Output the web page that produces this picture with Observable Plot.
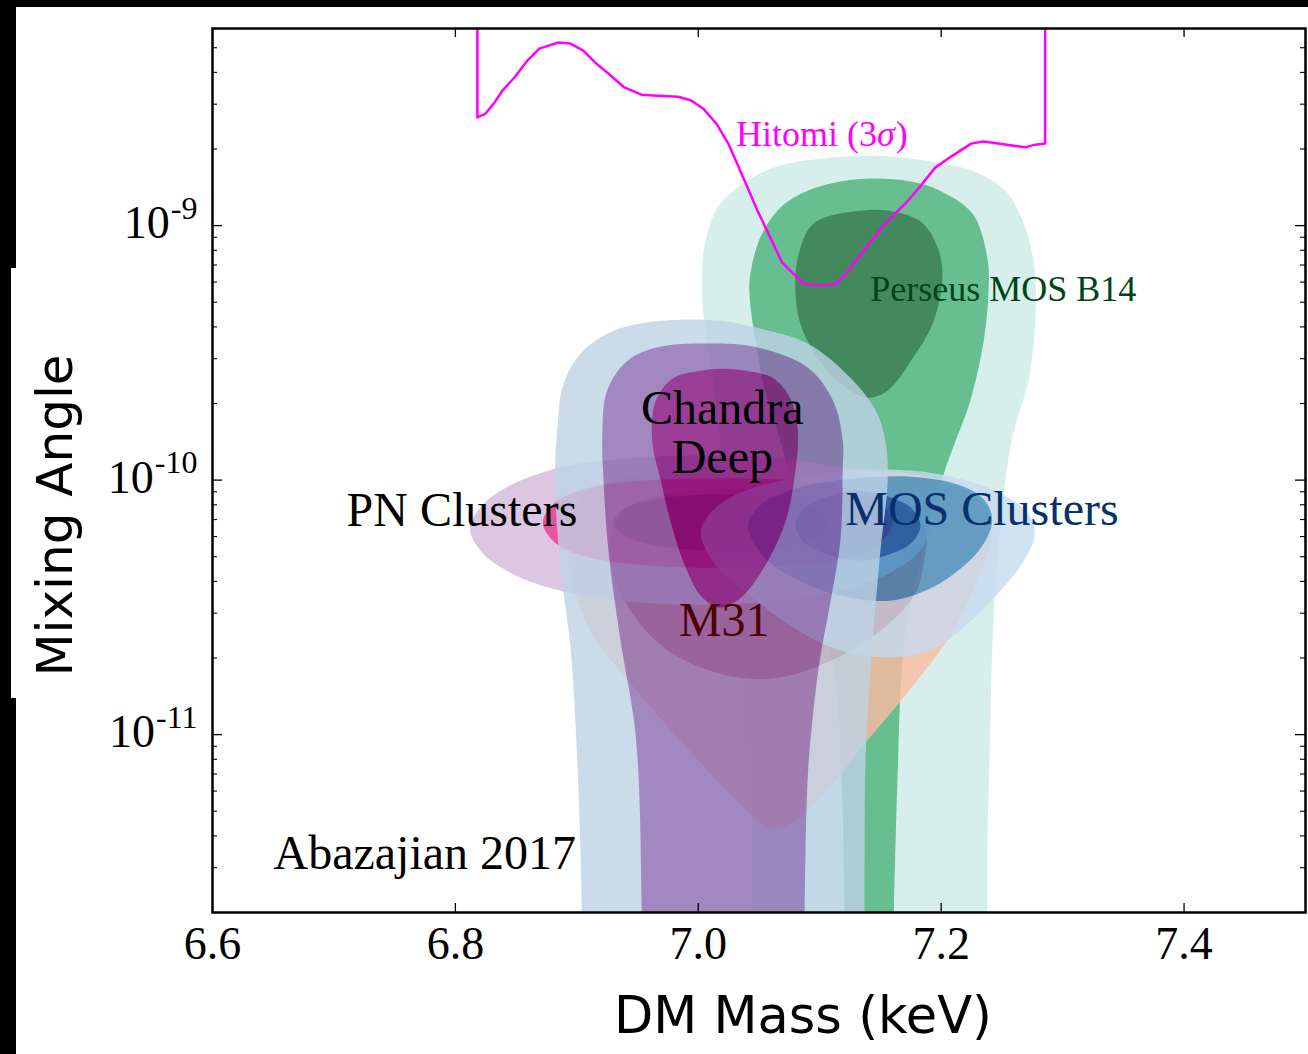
<!DOCTYPE html>
<html><head><meta charset="utf-8">
<script src="https://cdn.jsdelivr.net/npm/d3@7"></script>
<script src="https://cdn.jsdelivr.net/npm/@observablehq/plot@0.6"></script>
<style>
html,body{margin:0;padding:0;background:#fff;}
#wrap{position:relative;width:1308px;height:1054px;overflow:hidden;background:#fff;}
#chart{position:absolute;left:0;top:0;}
.blk{position:absolute;background:#000;}
</style></head><body>
<div id="wrap">
 <div id="chart"></div>
 <div class="blk" style="left:0;top:0;width:1308px;height:7px"></div>
 <div class="blk" style="left:0;top:0;width:16px;height:268px"></div>
 <div class="blk" style="left:0;top:268px;width:11px;height:430px"></div>
 <div class="blk" style="left:0;top:698px;width:16px;height:356px"></div>
</div>
<script>
// ---------- data (DM mass in keV, mixing angle sin^2(2θ)) ----------
const xTicks = [6.6, 6.8, 7.0, 7.2, 7.4];
const yMajor = [1e-9, 1e-10, 1e-11];
const yExponents = ["-9", "-10", "-11"];
const yMinor = [2e-12,3e-12,4e-12,5e-12,6e-12,7e-12,8e-12,9e-12,
  2e-11,3e-11,4e-11,5e-11,6e-11,7e-11,8e-11,9e-11,
  2e-10,3e-10,4e-10,5e-10,6e-10,7e-10,8e-10,9e-10,
  2e-9,3e-9,4e-9,5e-9];

const perseusOuter = [[7.044,3e-13],[7.044,1e-12],[7.044,5.51e-12],[7.041,1.36e-11],[7.035,2.81e-11],[7.025,6.93e-11],[7.017,1.57e-10],[7.010,2.95e-10],[7.004,4.63e-10],[7.003,6.48e-10],[7.006,8.73e-10],[7.016,1.18e-9],[7.035,1.44e-9],[7.062,1.69e-9],[7.100,1.83e-9],[7.144,1.88e-9],[7.187,1.80e-9],[7.226,1.64e-9],[7.253,1.37e-9],[7.268,1.02e-9],[7.276,7.29e-10],[7.278,5.07e-10],[7.273,2.62e-10],[7.258,1.43e-10],[7.251,8.31e-11],[7.246,4.83e-11],[7.242,2.14e-11],[7.240,8.65e-12],[7.238,3.50e-12],[7.238,1e-12],[7.238,3e-13]];
const perseusMid = [[7.121,3e-13],[7.121,1e-12],[7.118,6.60e-12],[7.113,1.63e-11],[7.100,3.36e-11],[7.088,5.79e-11],[7.076,1.0e-10],[7.066,1.52e-10],[7.055,2.25e-10],[7.047,3.53e-10],[7.042,5.55e-10],[7.043,6.48e-10],[7.051,8.97e-10],[7.068,1.18e-9],[7.090,1.37e-9],[7.117,1.49e-9],[7.144,1.53e-9],[7.175,1.49e-9],[7.199,1.37e-9],[7.226,1.11e-9],[7.238,7.49e-10],[7.239,5.55e-10],[7.235,3.53e-10],[7.224,2.05e-10],[7.212,1.43e-10],[7.203,1.09e-10],[7.191,6.93e-11],[7.179,4.03e-11],[7.169,2.14e-11],[7.164,6.60e-12],[7.160,1e-12],[7.160,3e-13]];
const perseusInner = [[7.139,1.15e-9],[7.166,1.12e-9],[7.185,1.02e-9],[7.198,7.98e-10],[7.201,6.08e-10],[7.193,4.12e-10],[7.177,3.03e-10],[7.156,2.25e-10],[7.139,2.11e-10],[7.117,2.39e-10],[7.098,3.03e-10],[7.084,4.12e-10],[7.080,5.55e-10],[7.082,7.49e-10],[7.095,1.02e-9]];

const m31Outer = [[7.061,4.27e-12],[7.040,5.03e-12],[6.998,8.13e-12],[6.947,1.53e-11],[6.911,2.56e-11],[6.896,4.03e-11],[6.893,5.79e-11],[6.899,7.94e-11],[6.919,9.52e-11],[6.961,1.07e-10],[7.018,1.13e-10],[7.084,1.13e-10],[7.150,1.09e-10],[7.199,1.0e-10],[7.232,8.31e-11],[7.242,6.33e-11],[7.236,4.83e-11],[7.210,2.56e-11],[7.169,1.40e-11],[7.137,9.22e-12],[7.088,4.89e-12]];
const m31Mid = [[7.061,1.66e-11],[7.015,1.75e-11],[6.973,2.18e-11],[6.944,3.07e-11],[6.929,4.41e-11],[6.929,6.33e-11],[6.944,7.94e-11],[6.985,8.93e-11],[7.051,9.26e-11],[7.117,8.93e-11],[7.166,7.94e-11],[7.187,6.33e-11],[7.186,4.83e-11],[7.179,3.61e-11],[7.150,2.56e-11],[7.109,1.95e-11]];

const pnOuter = [[6.812,6.45e-11],[6.822,7.94e-11],[6.845,9.52e-11],[6.886,1.12e-10],[6.936,1.21e-10],[7.002,1.25e-10],[7.067,1.21e-10],[7.117,1.12e-10],[7.158,9.52e-11],[7.181,7.94e-11],[7.191,6.45e-11],[7.181,5.19e-11],[7.158,4.33e-11],[7.117,3.68e-11],[7.067,3.36e-11],[7.002,3.24e-11],[6.936,3.36e-11],[6.886,3.68e-11],[6.845,4.33e-11],[6.822,5.19e-11]];
const pnMid = [[6.872,6.81e-11],[6.882,8.16e-11],[6.911,9.35e-11],[6.961,1.00e-10],[7.018,1.02e-10],[7.076,1.00e-10],[7.125,9.35e-11],[7.150,8.16e-11],[7.160,6.81e-11],[7.150,5.68e-11],[7.125,4.96e-11],[7.076,4.61e-11],[7.018,4.53e-11],[6.961,4.61e-11],[6.911,4.96e-11],[6.882,5.68e-11]];
const pnInner = [[6.930,6.81e-11],[6.940,7.73e-11],[6.969,8.46e-11],[7.018,8.77e-11],[7.068,8.46e-11],[7.096,7.73e-11],[7.106,6.81e-11],[7.096,6.00e-11],[7.068,5.48e-11],[7.018,5.29e-11],[6.969,5.48e-11],[6.940,6.00e-11]];

const mosOuter = [[7.002,6.22e-11],[7.012,7.59e-11],[7.035,8.93e-11],[7.076,1.01e-10],[7.125,1.09e-10],[7.175,1.09e-10],[7.216,1.01e-10],[7.253,8.69e-11],[7.273,7.25e-11],[7.277,6.05e-11],[7.267,4.74e-11],[7.249,3.68e-11],[7.220,2.68e-11],[7.191,2.14e-11],[7.158,2.01e-11],[7.117,2.14e-11],[7.076,2.68e-11],[7.043,3.52e-11],[7.013,4.74e-11]];
const mosMid = [[7.041,6.64e-11],[7.051,7.94e-11],[7.080,9.26e-11],[7.125,1.01e-10],[7.175,1.03e-10],[7.216,9.52e-11],[7.236,8.31e-11],[7.242,6.93e-11],[7.234,5.53e-11],[7.216,4.49e-11],[7.191,3.75e-11],[7.158,3.36e-11],[7.117,3.52e-11],[7.080,4.10e-11],[7.053,5.05e-11]];
const mosInner = [[7.080,6.64e-11],[7.088,7.80e-11],[7.109,8.69e-11],[7.131,9.09e-11],[7.154,8.69e-11],[7.175,7.80e-11],[7.183,6.64e-11],[7.175,5.63e-11],[7.154,5.05e-11],[7.131,4.83e-11],[7.109,5.05e-11],[7.088,5.63e-11]];

const chandraOuter = [[6.905,3e-13],[6.905,1e-12],[6.903,3.50e-12],[6.900,8.65e-12],[6.895,2.14e-11],[6.886,4.83e-11],[6.882,1.0e-10],[6.884,1.61e-10],[6.889,2.39e-10],[6.903,3.14e-10],[6.925,3.76e-10],[6.952,4.12e-10],[6.985,4.27e-10],[7.018,4.23e-10],[7.051,3.94e-10],[7.090,3.44e-10],[7.125,2.53e-10],[7.146,1.88e-10],[7.154,1.43e-10],[7.156,1.0e-10],[7.150,5.29e-11],[7.143,2.14e-11],[7.138,8.65e-12],[7.137,3.50e-12],[7.137,1e-12],[7.137,3e-13]];
const chandraMid = [[6.954,3e-13],[6.954,1e-12],[6.951,6.60e-12],[6.947,1.14e-11],[6.936,2.34e-11],[6.926,5.29e-11],[6.922,1.0e-10],[6.921,1.52e-10],[6.925,2.25e-10],[6.942,2.95e-10],[6.966,3.32e-10],[7.007,3.44e-10],[7.049,3.32e-10],[7.090,2.77e-10],[7.111,2.05e-10],[7.119,1.43e-10],[7.119,1.12e-10],[7.117,5.79e-11],[7.109,3.36e-11],[7.100,1.95e-11],[7.094,1.14e-11],[7.090,6.60e-12],[7.087,1e-12],[7.087,3e-13]];
const chandraInner = [[7.017,3.16e-11],[7.002,3.52e-11],[6.989,4.61e-11],[6.977,6.93e-11],[6.969,1.0e-10],[6.962,1.43e-10],[6.965,2.05e-10],[6.979,2.51e-10],[7.002,2.69e-10],[7.021,2.74e-10],[7.043,2.67e-10],[7.062,2.51e-10],[7.076,2.09e-10],[7.082,1.57e-10],[7.080,1.09e-10],[7.072,6.93e-11],[7.055,4.61e-11],[7.035,3.45e-11]];

const hitomi = [[6.8181,1e-8],[6.8181,2.66e-9],[6.8247,2.75e-9],[6.8321,3.04e-9],[6.8387,3.39e-9],[6.8486,3.82e-9],[6.8593,4.45e-9],[6.8691,4.96e-9],[6.8848,5.24e-9],[6.8947,5.19e-9],[6.9053,4.87e-9],[6.9152,4.37e-9],[6.9259,3.96e-9],[6.9391,3.49e-9],[6.9531,3.27e-9],[6.9663,3.24e-9],[6.9835,3.21e-9],[6.9942,3.10e-9],[7.0041,2.88e-9],[7.0148,2.52e-9],[7.0247,2.10e-9],[7.0387,1.48e-9],[7.0486,1.15e-9],[7.0593,8.97e-10],[7.0691,7.15e-10],[7.0864,5.92e-10],[7.1029,5.81e-10],[7.1136,5.92e-10],[7.1235,6.65e-10],[7.1374,8.12e-10],[7.1547,1.03e-9],[7.1712,1.23e-9],[7.1819,1.41e-9],[7.1951,1.69e-9],[7.2091,1.88e-9],[7.2247,2.10e-9],[7.2346,2.14e-9],[7.2469,2.10e-9],[7.2691,2.03e-9],[7.2774,2.08e-9],[7.2856,2.10e-9],[7.2856,1e-8]];

// label of the Hitomi curve: pieces ("3σ" with an italic sigma)
const hitomiLabelParts = ["Hitomi (3", "σ", ")"];
const hitomiLabelMass = 7.031, hitomiLabelAngle = 2.28e-9;

const labelText  = ["Perseus MOS B14", "Chandra", "Deep", "PN Clusters", "MOS Clusters", "M31", "Abazajian 2017"];
const labelMass  = [7.1416, 7.0198, 7.0198, 6.9004, 7.121, 7.0214, 6.6502];
const labelAngle = [5.60e-10, 1.91e-10, 1.23e-10, 7.59e-11, 7.66e-11, 2.81e-11, 3.41e-12];

// ---------- styles ----------
const labelColor  = ["#00441b", "#000", "#000", "#000", "#08306b", "#4a0008", "#000"];
const labelSize   = [36, 48, 48, 48, 48, 48, 48];
const labelAnchor = ["start", "middle", "middle", "end", "start", "middle", "start"];

const families = [
  {name: "perseus", levels: [perseusOuter, perseusMid, perseusInner], colors: ["#ccece6", "#41ae76", "#136d36"], alpha: 0.8},
  {name: "m31",     levels: [m31Outer, m31Mid],                     colors: ["#fcbba1", "#cb181d"], alpha: 0.8},
  {name: "pn",      levels: [pnOuter, pnMid, pnInner],              colors: ["#d4b9da", "#e7298a", "#980043"], alpha: 0.8},
  {name: "mos",     levels: [mosOuter, mosMid, mosInner],           colors: ["#c6dbef", "#4292c6", "#08519c"], alpha: 0.8},
  {name: "chandra", levels: [chandraOuter, chandraMid, chandraInner], colors: ["#bfd3e6", "#8c6bb1", "#810f7c"], alpha: 0.8}
];

const W = 1308, H = 1054, mL = 212, mR = 3, mT = 28, mB = 142;
const FW = W - mL - mR, FH = H - mT - mB;
const serif = "Liberation Serif, Times New Roman, serif";
const sans = "DejaVu Sans, sans-serif";

const famMarks = families.map(f => {
  const data = f.levels.flatMap((pts, i) => pts.map(([m, a]) => ({m, a, level: i, color: f.colors[i]})));
  return Plot.line(data, {x: "m", y: "a", z: "level", fill: "color", stroke: "none",
    curve: "catmull-rom-closed", clip: true, ariaDescription: f.name});
});

const ctx = document.createElement("canvas").getContext("2d");
const measure = (t, size, style = "") => { ctx.font = `${style} ${size}px "Liberation Serif"`; return ctx.measureText(t).width; };

const expSize = 32;
const yLabelMarks = yMajor.flatMap((v, i) => {
  const w = measure(yExponents[i], expSize);
  return [
    Plot.text([v], {y: d => d, text: () => yExponents[i], frameAnchor: "left", textAnchor: "end",
      dx: -15, dy: -17, fontSize: expSize, fontFamily: serif, fill: "#000"}),
    Plot.text([v], {y: d => d, text: () => "10", frameAnchor: "left", textAnchor: "end",
      dx: -15 - w - 1, dy: -2, fontSize: 46, fontFamily: serif, fill: "#000"})
  ];
});

const labelMarks = labelText.map((t, i) =>
  Plot.text([i], {x: j => labelMass[j], y: j => labelAngle[j], text: j => labelText[j],
    textAnchor: labelAnchor[i], fontSize: labelSize[i], fontFamily: serif, fill: labelColor[i]}));

const hitSize = 36;
const hw0 = measure(hitomiLabelParts[0], hitSize), hw1 = measure(hitomiLabelParts[1], hitSize, "italic");
const hitomiLabelMarks = hitomiLabelParts.map((t, i) =>
  Plot.text([t], {x: () => hitomiLabelMass, y: () => hitomiLabelAngle, text: d => d, textAnchor: "start",
    dx: i === 0 ? 0 : i === 1 ? hw0 : hw0 + hw1 + 1, fontSize: hitSize, fontFamily: serif,
    fontStyle: i === 1 ? "italic" : "normal", fill: "#ff00ff"}));

const chart = Plot.plot({
  width: W, height: H,
  marginLeft: mL, marginRight: mR, marginTop: mT, marginBottom: mB,
  style: {background: "transparent", fontFamily: serif},
  x: {domain: [6.6, 7.5], axis: null},
  y: {type: "log", domain: [2e-12, 5.95e-9], axis: null},
  color: {type: "identity"},
  marks: [
    ...famMarks,
    Plot.line(hitomi, {x: d => d[0], y: d => d[1], stroke: "#ff00ff", strokeWidth: 2.5, clip: true, curve: "linear"}),
    ...hitomiLabelMarks,
    ...labelMarks,
    // ticks (inward)
    Plot.tickX(xTicks, {x: d => d, insetTop: FH - 9, stroke: "#000", strokeWidth: 1.3}),
    Plot.tickX(xTicks, {x: d => d, insetBottom: FH - 9, stroke: "#000", strokeWidth: 1.3}),
    Plot.tickY(yMajor, {y: d => d, insetRight: FW - 10, stroke: "#000", strokeWidth: 1.3}),
    Plot.tickY(yMajor, {y: d => d, insetLeft: FW - 10, stroke: "#000", strokeWidth: 1.3}),
    Plot.tickY(yMinor, {y: d => d, insetRight: FW - 5, stroke: "#000", strokeWidth: 1.1}),
    Plot.tickY(yMinor, {y: d => d, insetLeft: FW - 5, stroke: "#000", strokeWidth: 1.1}),
    Plot.frame({stroke: "#000", strokeWidth: 2.5}),
    // tick labels
    Plot.text(xTicks, {x: d => d, text: d => d.toFixed(1), frameAnchor: "bottom", lineAnchor: "top",
      dy: 14, fontSize: 46, fontFamily: serif, fill: "#000"}),
    ...yLabelMarks,
    // axis titles
    Plot.text(["DM Mass (keV)"], {text: d => d, frameAnchor: "bottom", textAnchor: "middle", dx: 44, dy: 120,
      fontSize: 51, fontFamily: sans, fill: "#000"}),
    Plot.text(["Mixing Angle"], {text: d => d, frameAnchor: "left", textAnchor: "middle", rotate: -90, dx: -157, dy: 45,
      fontSize: 50, fontFamily: sans, fill: "#000"})
  ]
});

// contourf-style bands: levels of one family are opaque to each other, translucent as a group
families.forEach((f, i) => {
  let g = chart.querySelector(`g[aria-description="${f.name}"]`);
  if (!g) g = chart.querySelectorAll('g[aria-label="line"]')[i];
  if (g) g.setAttribute("opacity", f.alpha);
});
document.getElementById("chart").appendChild(chart);
</script>
</body></html>
